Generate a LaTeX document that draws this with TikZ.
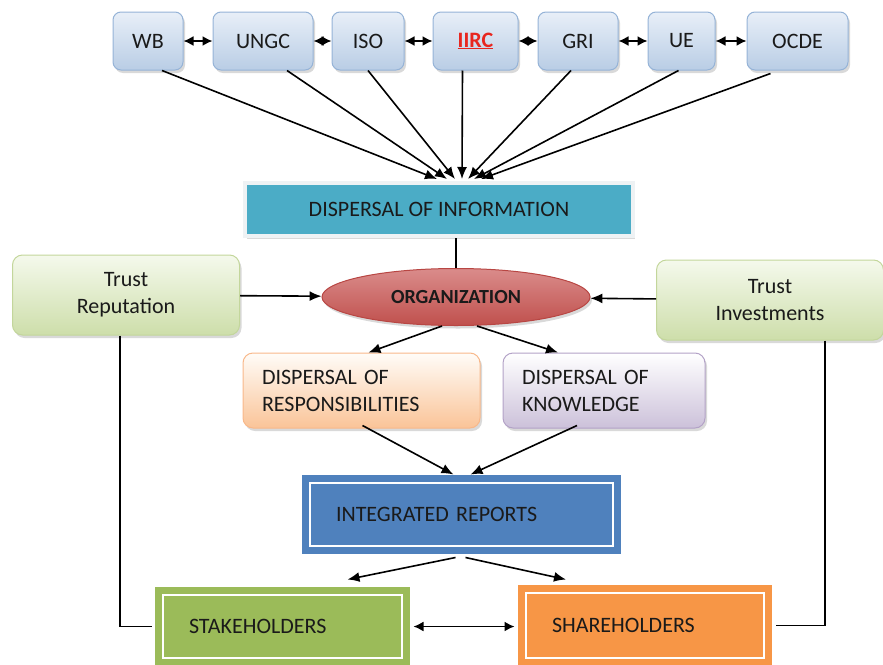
\documentclass[tikz,border=0pt]{standalone}
\usepackage{fontspec}
\setmainfont{Carlito}
\usepackage{xcolor}
\usepackage{tikz}
\usetikzlibrary{arrows.meta,shapes.geometric,shadows}
\definecolor{topedge}{RGB}{149,179,215}
\definecolor{toptop}{RGB}{232,239,248}
\definecolor{topbot}{RGB}{185,205,229}
\definecolor{iircred}{RGB}{232,38,31}
\definecolor{infofill}{RGB}{75,172,198}
\definecolor{infoedge}{RGB}{238,242,244}
\definecolor{orgtop}{RGB}{218,140,139}
\definecolor{orgbot}{RGB}{192,80,77}
\definecolor{orgedge}{RGB}{184,70,67}
\definecolor{trusttop}{RGB}{245,249,236}
\definecolor{trustbot}{RGB}{205,222,170}
\definecolor{trustedge}{RGB}{195,214,155}
\definecolor{resptop}{RGB}{255,252,248}
\definecolor{respbot}{RGB}{250,196,152}
\definecolor{respedge}{RGB}{248,184,138}
\definecolor{knowtop}{RGB}{255,255,255}
\definecolor{knowbot}{RGB}{204,193,218}
\definecolor{knowedge}{RGB}{179,162,199}
\definecolor{reportblue}{RGB}{79,129,189}
\definecolor{stakegreen}{RGB}{155,187,89}
\definecolor{shareorange}{RGB}{247,150,70}
\definecolor{inktext}{RGB}{26,26,26}

\begin{document}
\begin{tikzpicture}[x=1pt, y=-1pt,
  font=\fontsize{22}{27}\selectfont, text=inktext,
  shade/.style={drop shadow={opacity=0.3, shadow xshift=2pt, shadow yshift=-3pt}},
  topbox/.style={draw=topedge, line width=1pt, rounded corners=8pt, top color=toptop, bottom color=topbot, minimum height=58pt, inner sep=0pt, shade},
  trustbox/.style={draw=trustedge, line width=1pt, rounded corners=10pt, top color=trusttop, bottom color=trustbot, minimum width=227pt, minimum height=80pt, align=center, shade},
  dispbox/.style={line width=1pt, rounded corners=10pt, minimum height=75pt, align=left, inner xsep=19pt, shade},
  framebox/.style={draw=#1, fill=#1, line width=7pt, double=white, double distance=2pt, align=left, inner xsep=26pt},
  arr/.style={-{Latex[length=12pt,width=10pt]}, line width=1.6pt},
  dbl/.style={{Latex[length=10pt,width=10pt]}-{Latex[length=10pt,width=10pt]}, line width=1.6pt}]
  \useasboundingbox (0,0) rectangle (883,664);

  % standards along the top
  \node[topbox, minimum width=70pt] (wb) at (148,41) {WB};
  \node[topbox, minimum width=100pt] (ungc) at (263,41) {UNGC};
  \node[topbox, minimum width=72pt] (iso) at (368,41) {ISO};
  \node[topbox, minimum width=85pt] (iirc) at (475.5,41) {\textcolor{iircred}{\underline{\textbf{IIRC}}}};
  \node[topbox, minimum width=80pt] (gri) at (578,41) {GRI};
  \node[topbox, minimum width=67pt] (ue) at (681.5,41) {UE};
  \node[topbox, minimum width=101pt] (ocde) at (797.5,41) {OCDE};
  \draw[dbl] (wb) -- (ungc);
  \draw[dbl] (ungc) -- (iso);
  \draw[dbl] (iso) -- (iirc);
  \draw[dbl] (iirc) -- (gri);
  \draw[dbl] (gri) -- (ue);
  \draw[dbl] (ue) -- (ocde);

  \node[draw=infoedge, line width=4pt, fill=infofill, minimum width=388pt, minimum height=53pt, shade] (info) at (439,209.5) {DISPERSAL OF INFORMATION};
  \draw[arr] ([xshift=14pt]wb.south) -- ([xshift=-2pt,yshift=2pt]info.north);
  \draw[arr] ([xshift=24pt]ungc.south) -- ([xshift=8pt,yshift=2pt]info.north);
  \draw[arr] (iso.south) -- ([xshift=16pt,yshift=2pt]info.north);
  \draw[arr] ([xshift=-13pt]iirc.south) -- ([xshift=23pt,yshift=2pt]info.north);
  \draw[arr] ([xshift=-7pt]gri.south) -- ([xshift=29pt,yshift=2pt]info.north);
  \draw[arr] ([xshift=-3pt]ue.south) -- ([xshift=35pt,yshift=2pt]info.north);
  \draw[arr] ([xshift=-27pt,yshift=-3pt]ocde.south) -- ([xshift=42pt,yshift=2pt]info.north);

  % organization and trust
  \node[ellipse, draw=orgedge, line width=1pt, top color=orgtop, bottom color=orgbot, minimum width=268pt, minimum height=57pt, inner sep=0pt, font=\fontsize{20}{24}\selectfont\bfseries, shade] (org) at (456,297) {ORGANIZATION};
  \draw[line width=1.6pt] (org.north) -- (org.north |- info.south);
  \node[trustbox] (rep) at (126,295) {Trust\\Reputation};
  \node[trustbox] (inv) at (770,300) {Trust\\Investments};
  \draw[arr] (rep) -- (org);
  \draw[arr] (inv) -- (org);

  \node[dispbox, draw=respedge, top color=resptop, bottom color=respbot, minimum width=237pt, text width=199pt] (resp) at (361.5,390.5) {DISPERSAL OF\\RESPONSIBILITIES};
  \node[dispbox, draw=knowedge, top color=knowtop, bottom color=knowbot, minimum width=202pt, text width=164pt] (know) at (604,390.5) {DISPERSAL OF\\KNOWLEDGE};
  \draw[arr] ([xshift=-14pt]org.south) -- ([xshift=7pt]resp.north);
  \draw[arr] ([xshift=21pt]org.south) -- ([xshift=-46pt]know.north);

  % reports and holders
  \node[framebox=reportblue, minimum width=303pt, minimum height=63pt, text width=251pt] (ir) at (461.5,514.5) {INTEGRATED REPORTS};
  \draw[arr] ([xshift=1pt,yshift=3pt]resp.south) -- ([xshift=-8pt,yshift=5pt]ir.north);
  \draw[arr] ([xshift=-27pt,yshift=3pt]know.south) -- ([xshift=9pt,yshift=5pt]ir.north);

  \node[framebox=stakegreen, minimum width=239pt, minimum height=63pt, text width=187pt] (stake) at (282.5,626.5) {STAKEHOLDERS};
  \node[framebox=shareorange, minimum width=238pt, minimum height=65pt, text width=186pt] (share) at (645,625.5) {SHAREHOLDERS};
  \draw[arr] ([xshift=-6pt,yshift=-8pt]ir.south) -- ([xshift=65pt,yshift=12pt]stake.north);
  \draw[arr] ([xshift=4pt,yshift=-8pt]ir.south) -- ([xshift=-79pt,yshift=10pt]share.north);
  \draw[dbl] ([xshift=8pt]stake.east) -- ([xshift=-8pt]stake.east -| share.west);

  \draw[line width=1.2pt] ([xshift=-6pt]rep.south) |- ([xshift=-8pt]stake.west);
  \draw[line width=1.2pt] ([xshift=55pt]inv.south) |- ([xshift=8pt]share.east);
\end{tikzpicture}
\end{document}
